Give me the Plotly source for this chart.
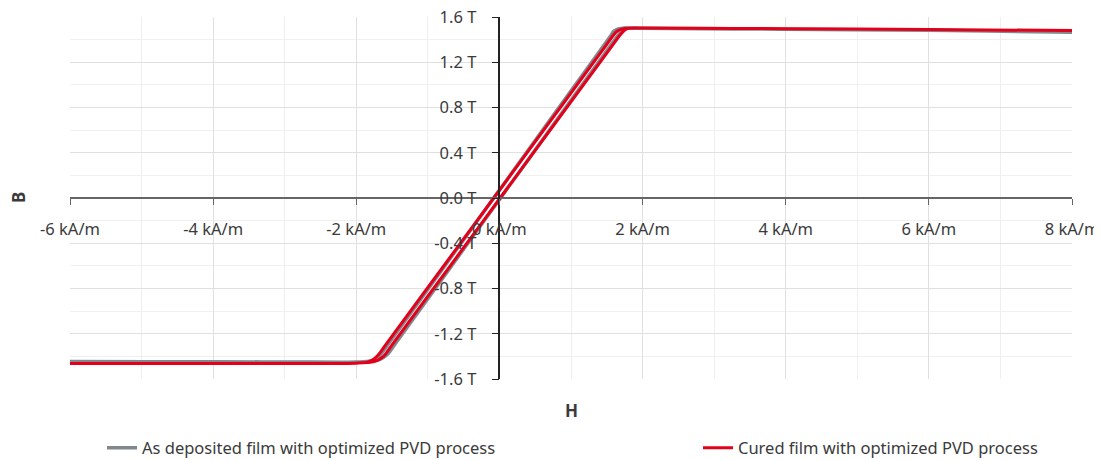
import plotly.graph_objects as go

# As deposited film (grey loop): descending branch then ascending branch
H_deposited = [8, 6, 4, 2, 1.75, 1.66, 1.60, 1.55, 1.403, 0.6, -0.08, -0.8, -1.563, -1.62, -1.72, -1.85, -2.0, -3, -4, -6,
               -6, -4, -3, -2.0, -1.75, -1.65, -1.55, -1.468, -0.7, 0.015, 0.7, 1.498, 1.60, 1.66, 1.72, 1.8, 2, 4, 6, 8]
B_deposited = [1.465, 1.482, 1.492, 1.500, 1.503, 1.495, 1.475, 1.429, 1.300, 0.596, 0.0, -0.631, -1.300, -1.350, -1.420, -1.445, -1.450, -1.449, -1.448, -1.445,
               -1.445, -1.448, -1.449, -1.450, -1.440, -1.420, -1.372, -1.300, -0.627, 0.0, 0.600, 1.300, 1.390, 1.440, 1.480, 1.500, 1.500, 1.492, 1.482, 1.465]

# Cured film (red loop)
H_cured = [8, 6, 4, 2, 1.8, 1.72, 1.66, 1.62, 1.433, 0.5, -0.08, -0.6, -1.593, -1.70, -1.78, -1.88, -2.0, -3, -4, -6,
           -6, -4, -3, -2.0, -1.85, -1.72, -1.62, -1.503, -0.6, 0.01, 0.6, 1.523, 1.70, 1.76, 1.8, 2, 4, 6, 8]
B_cured = [1.480, 1.490, 1.497, 1.502, 1.500, 1.495, 1.480, 1.460, 1.300, 0.498, 0.0, -0.447, -1.300, -1.392, -1.435, -1.455, -1.460, -1.462, -1.463, -1.463,
           -1.463, -1.463, -1.462, -1.460, -1.455, -1.440, -1.400, -1.300, -0.524, 0.0, 0.507, 1.300, 1.452, 1.490, 1.500, 1.502, 1.497, 1.490, 1.480]

x_tickvals = [-6, -4, -2, 0, 2, 4, 6, 8]
x_ticktext = ["-6 kA/m", "-4 kA/m", "-2 kA/m", "0 kA/m", "2 kA/m", "4 kA/m", "6 kA/m", "8 kA/m"]
y_tickvals = [-1.6, -1.2, -0.8, -0.4, 0.0, 0.4, 0.8, 1.2, 1.6]
y_ticktext = ["-1.6 T", "-1.2 T", "-0.8 T", "-0.4 T", "0.0 T", "0.4 T", "0.8 T", "1.2 T", "1.6 T"]

FONT = "Noto Sans"
TXT = "#3a3a3a"
FS = 16.5

fig = go.Figure()
fig.add_trace(go.Scatter(x=H_deposited, y=B_deposited, mode="lines",
                         name="As deposited film with optimized PVD process",
                         line=dict(color="#80878d", width=3.5), line_shape="spline",
                         legend="legend"))
fig.add_trace(go.Scatter(x=H_cured, y=B_cured, mode="lines",
                         name="Cured film with optimized PVD process",
                         line=dict(color="#e2001a", width=3), line_shape="spline",
                         legend="legend2"))

leg_common = dict(orientation="h", xanchor="left", y=-69 / 362, yanchor="middle",
                  bgcolor="rgba(0,0,0,0)", font=dict(family=FONT, size=FS, color=TXT))

# page body adds an 8px offset; figure size/margins compensate for it
fig.update_layout(
    width=1094, height=460,
    margin=dict(l=62, r=30, t=9, b=89, autoexpand=False),
    paper_bgcolor="white", plot_bgcolor="white",
    font=dict(family=FONT, size=FS, color=TXT),
    showlegend=True,
    legend=dict(x=32 / 1002, **leg_common),
    legend2=dict(x=628 / 1002, **leg_common),
    xaxis=dict(range=[-6, 8], tickmode="array", tickvals=x_tickvals, ticktext=x_ticktext,
               anchor="free", position=0.5, showline=True, linecolor="#666666", linewidth=1.5,
               ticks="outside", ticklen=6, tickcolor="#666666", ticklabelstandoff=10,
               ticklabeloverflow="allow",
               showgrid=True, gridcolor="#e0e0e0", gridwidth=1, zeroline=False, automargin=False,
               minor=dict(dtick=1, tick0=0, showgrid=True, gridcolor="#efefef", ticks=""),
               tickfont=dict(size=FS, color=TXT)),
    yaxis=dict(range=[-1.6, 1.6], tickmode="array", tickvals=y_tickvals, ticktext=y_ticktext,
               anchor="free", position=3 / 7, showline=True, linecolor="#222222", linewidth=1.5,
               ticks="outside", ticklen=7, tickcolor="#222222", ticklabelstandoff=12,
               ticklabeloverflow="allow",
               showgrid=True, gridcolor="#e0e0e0", gridwidth=1, zeroline=False, automargin=False,
               minor=dict(dtick=0.2, tick0=0, showgrid=True, gridcolor="#f0f0f0", ticks=""),
               tickfont=dict(size=FS, color=TXT)),
    annotations=[
        dict(text="<b>B</b>", xref="paper", yref="paper", x=-52 / 1002, y=0.5, showarrow=False,
             textangle=-90, font=dict(size=17, color=TXT), xanchor="center", yanchor="middle"),
        dict(text="<b>H</b>", xref="paper", yref="paper", x=0.5, y=-31 / 362, showarrow=False,
             font=dict(size=17, color=TXT), xanchor="center", yanchor="middle"),
    ],
)

fig.write_html("out.html")
